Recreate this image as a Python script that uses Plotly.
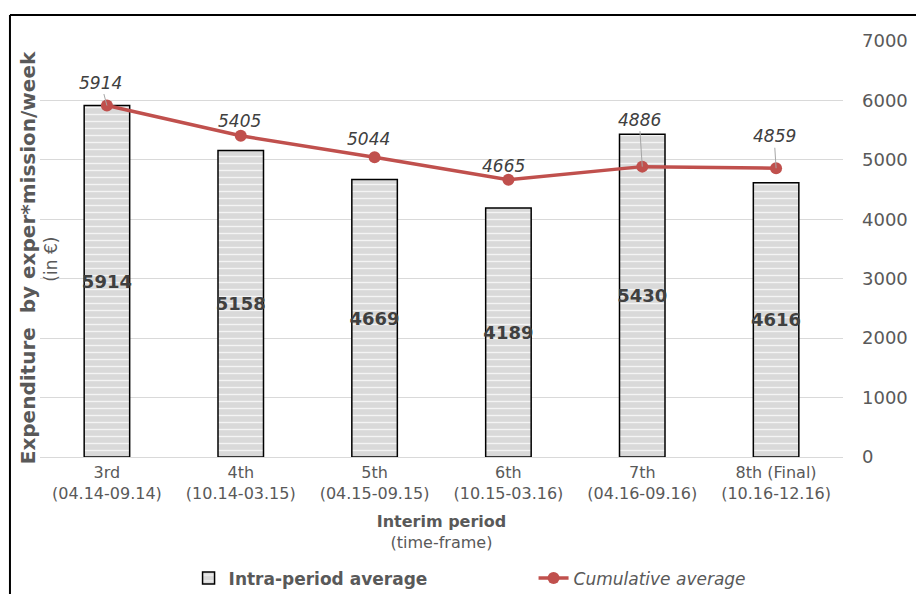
import plotly.graph_objects as go

# Interim periods and their time-frames
periods = ["3rd", "4th", "5th", "6th", "7th", "8th (Final)"]
frames = ["04.14-09.14", "10.14-03.15", "04.15-09.15", "10.15-03.16", "04.16-09.16", "10.16-12.16"]

# Expenditure per expert-mission per week (EUR)
intra_avg = [5914, 5158, 4669, 4189, 5430, 4616]
cumulative_avg = [5914, 5405, 5044, 4665, 4886, 4859]

# label offsets (pixels) for the cumulative-average labels
lbl_dx = [-6, -1, -6, -5, -3, -2]
lbl_dy = [-23, -15, -18, -14, -47, -32]
lbl_leader = [True, False, False, False, True, True]

cats = [f"{p}<br>({f})" for p, f in zip(periods, frames)]

FONT = "DejaVu Sans"
GRAY = "#595959"
DARK = "#404040"
RED = "#c0504d"

fig = go.Figure()

fig.add_trace(go.Bar(
    x=cats, y=intra_avg, name="<b>Intra-period average</b>",
    marker=dict(
        color="#d9d9d9",
        line=dict(color="#000000", width=1.5),
        pattern=dict(shape="-", fgcolor="#ffffff", bgcolor="#d9d9d9",
                     size=7, solidity=0.2, fgopacity=0.7),
    ),
    text=[f"<b>{v}</b>" for v in intra_avg],
    textposition="inside", insidetextanchor="middle", constraintext="none",
    textfont=dict(family=FONT, size=18, color=DARK),
    textangle=0, cliponaxis=False,
))

fig.add_trace(go.Scatter(
    x=cats, y=cumulative_avg, name="<i>Cumulative average</i>",
    mode="lines+markers",
    line=dict(color=RED, width=3.5),
    marker=dict(color=RED, size=12),
    cliponaxis=False,
))

for c, v, dx, dy, lead in zip(cats, cumulative_avg, lbl_dx, lbl_dy, lbl_leader):
    if lead:
        fig.add_annotation(x=c, y=v, text=f"<i>{v}</i>", showarrow=True,
                           ax=dx, ay=dy, arrowhead=0, arrowwidth=1,
                           arrowcolor="#a6a6a6", standoff=0,
                           font=dict(family=FONT, size=17, color=DARK))
    else:
        fig.add_annotation(x=c, y=v, text=f"<i>{v}</i>", showarrow=False,
                           xshift=dx, yshift=-dy,
                           font=dict(family=FONT, size=17, color=DARK))

# vertical axis title (two lines, different weights)
fig.add_annotation(xref="paper", yref="paper", x=-0.015, y=0.48, xanchor="center",
                   yanchor="middle", textangle=-90, showarrow=False,
                   text="<b>Expenditure  by exper*mission/week</b>",
                   font=dict(family=FONT, size=20, color=GRAY))
fig.add_annotation(xref="paper", yref="paper", x=0.014, y=0.475, xanchor="center",
                   yanchor="middle", textangle=-90, showarrow=False,
                   text="(in €)", font=dict(family=FONT, size=17, color=GRAY))

# outer frame: top and left edges
fig.add_shape(type="line", xref="paper", yref="paper", x0=-0.0374, x1=1.2,
              y0=1.0625, y1=1.0625, line=dict(color="#000000", width=2))
fig.add_shape(type="line", xref="paper", yref="paper", x0=-0.0374, x1=-0.0374,
              y0=1.0625, y1=-0.4, line=dict(color="#000000", width=2))

fig.update_layout(
    width=916, height=594,
    margin=dict(l=40, r=73, t=41, b=137, autoexpand=False),
    paper_bgcolor="white", plot_bgcolor="white",
    bargap=0.66,
    font=dict(family=FONT, color=GRAY),
    xaxis=dict(
        automargin=False,
        tickfont=dict(family=FONT, size=16, color=GRAY),
        ticklabelstandoff=4,
        title=dict(text="<b>Interim period</b><br>(time-frame)",
                   font=dict(family=FONT, size=16, color=GRAY), standoff=14),
        showline=False, showgrid=False, ticks="",
    ),
    yaxis=dict(
        automargin=False,
        side="right", range=[0, 7000], dtick=1000,
        showgrid=True, gridcolor="#d9d9d9", gridwidth=1.3,
        zeroline=True, zerolinecolor="#d9d9d9", zerolinewidth=1.3,
        tickfont=dict(family=FONT, size=18, color=GRAY),
        ticklabelstandoff=18, showline=False,
    ),
    legend=dict(orientation="h", x=0.185, y=-0.292, xanchor="left", yanchor="middle",
                font=dict(family=FONT, size=17, color=GRAY),
                entrywidth=300, entrywidthmode="pixels", traceorder="normal"),
)

fig.write_html("out.html")
